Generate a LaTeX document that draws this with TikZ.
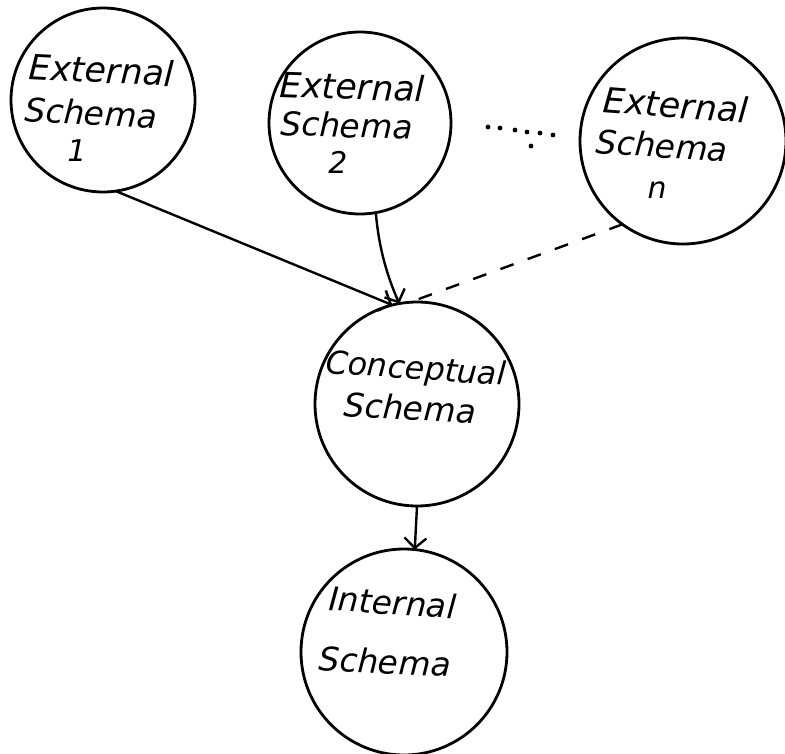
\documentclass[tikz,border=0pt]{standalone}
\usepackage{fontspec}
\setmainfont{DejaVu Sans}
\usetikzlibrary{arrows.meta}
\begin{document}
\begin{tikzpicture}[x=1bp,y=-1bp,
  schema/.style={circle,draw,line width=2.8bp,inner sep=0pt,outer sep=0pt},
  lettering/.style={anchor=base west,inner sep=0pt,font=\fontsize{33}{38}\selectfont\itshape},
  bigletter/.style={lettering,font=\fontsize{35}{40}\selectfont\itshape},
  smallletter/.style={lettering,font=\fontsize{32}{38}\selectfont\itshape},
  numeral/.style={anchor=base,inner sep=0pt,font=\fontsize{30}{34}\selectfont\itshape},
  flow/.style={line width=2.4bp,-{Straight Barb[length=10bp,width=22bp,line width=2.4bp]}},
  optional/.style={line width=2.4bp,dash pattern=on 14bp off 15bp},
  dot/.style={fill=black}]
\useasboundingbox (0,0) rectangle (785,754);

% schema circles
\node[schema,minimum size=184bp] (e1) at (103,100) {};
\node[schema,minimum size=182bp] (e2) at (360,123) {};
\node[schema,minimum size=206bp] (en) at (683,141) {};
\node[schema,minimum size=204bp] (cs) at (417,404) {};
\node[schema,minimum size=206bp] (is) at (404,652) {};

% lettering
\node[bigletter,rotate=-3] (e1a) at (28,79) {External};
\node[lettering,rotate=-3.5] (e1b) at (24,121) {Schema};
\node[numeral] (e1c) at (77,161) {1};

\node[bigletter,rotate=-2] (e2a) at (279,97) {External};
\node[lettering,rotate=-2] (e2b) at (280,135) {Schema};
\node[numeral] (e2c) at (338,173) {2};

\node[bigletter,rotate=-4.5] (ena) at (602,112) {External};
\node[lettering,rotate=-4] (enb) at (595,153) {Schema};
\node[numeral] (enc) at (657,198) {n};

\node[smallletter,rotate=-4] (csa) at (325,373) {Conceptual};
\node[lettering,rotate=-3.5] (csb) at (343,416) {Schema};

\node[lettering,rotate=-4] (isa) at (328,610) {Internal};
\node[lettering,rotate=-3] (isb) at (318,670) {Schema};

% ellipsis between the external schemas
\foreach \x/\y in {488/127,500/128,515/130,527/132,540/133,553/135,531/146}
  \fill[dot] (\x,\y) circle (2.4bp);

% mappings
\draw[flow] (e1.-82) -- (cs.104);
\draw[flow] (e2.-80) .. controls (379,250) and (388,278) .. (cs.100);
\draw[optional] (en.-126) -- (cs.94);
\draw[flow] (cs.-90) -- (is.84);
\end{tikzpicture}
\end{document}
